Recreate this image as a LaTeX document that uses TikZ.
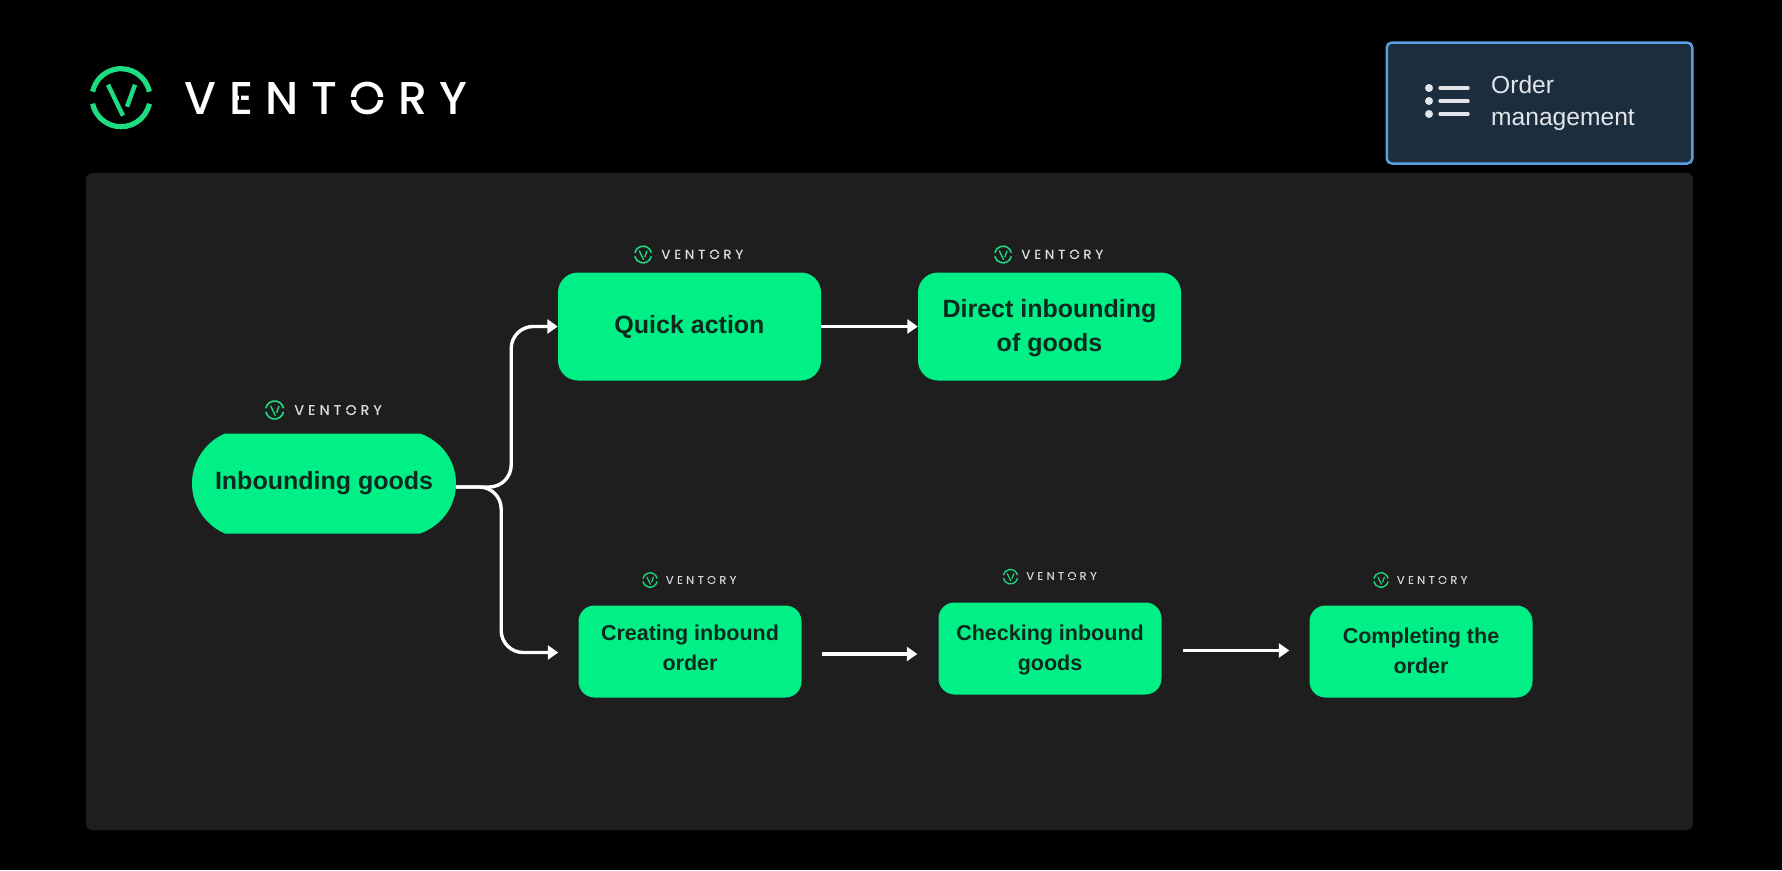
\documentclass[tikz,border=0pt]{standalone}
\usepackage{fontspec}
\usetikzlibrary{arrows.meta}
\setmainfont{Liberation Sans}
\newfontfamily\logofont[LetterSpace=27]{Poppins Medium}
\definecolor{bgblack}{HTML}{000000}
\definecolor{panelgrey}{HTML}{1E1E1E}
\definecolor{vgreen}{HTML}{00F087}
\definecolor{logogreen}{HTML}{1EDC82}
\definecolor{darktext}{HTML}{0E2A1E}
\definecolor{navy}{HTML}{1C2D3E}
\definecolor{edgeblue}{HTML}{5A9FE0}
\definecolor{lighttext}{HTML}{E2E6EA}
\newcommand{\tl}[2]{\raisebox{#1}[0pt][0pt]{#2}}
\tikzset{
  flow/.style={draw=white,line width=3.4pt,-{Triangle[length=10.5pt,width=14pt]}},
  actbig/.style={fill=vgreen,rounded corners=20pt,minimum width=263pt,minimum height=108pt,inner sep=0pt,
     text=darktext,align=center,font=\bfseries\fontsize{25}{34}\selectfont},
  actsmall/.style={fill=vgreen,rounded corners=16pt,minimum width=223pt,minimum height=92pt,inner sep=0pt,
     text=darktext,align=center,font=\bfseries\fontsize{21.5}{29.5}\selectfont},
}
% name, cx, cy, scale, background, wordmark colour
\newcommand{\ventlogo}[6]{%
  \begin{scope}[shift={(#2,#3)},scale=#4]
    \draw[logogreen,line width=5.2pt*#4] (12:29) arc (12:168:29);
    \draw[logogreen,line width=5.2pt*#4] (-12:29) arc (-12:-168:29);
    \draw[logogreen,line width=4.4pt*#4] (-13,-13) -- (2,18);
    \draw[logogreen,line width=4.4pt*#4] (14,-13) -- (6,9);
    \node[name=#1,anchor=base west,inner sep=0pt,outer sep=0pt,transform shape,text=#6,
      font=\logofont\fontsize{46}{46}\selectfont] at (63.7,16.3) {VENTORY};
    % stencil cuts in the letters
    \fill[#5] (227,-0.6) rectangle (264,2.2);
    \fill[#5] (117.5,-5) rectangle (120,6);
  \end{scope}%
}
\begin{document}
\begin{tikzpicture}[x=1pt,y=-1pt]
\useasboundingbox (0,0) rectangle (1782,870);
\fill[bgblack] (0,0) rectangle (1782,870);
\fill[panelgrey,rounded corners=6pt] (86,173) rectangle (1693,830);

% header
\ventlogo{mainlogo}{121}{97.7}{1}{bgblack}{white}
\node[name=orderbox,draw=edgeblue,fill=navy,line width=2.5pt,rounded corners=5pt,minimum width=305.5pt,minimum height=121pt,inner sep=0pt] at (1539.5,103) {};
\foreach \yy in {88,101,114}{
  \fill[lighttext] (1429,\yy) circle (4pt);
  \draw[lighttext,line width=3.4pt,line cap=round] (1440,\yy) -- (1468,\yy);
}
\node[name=ordertext,anchor=west,inner sep=0pt,text=lighttext,align=left,font=\fontsize{24.6}{32}\selectfont] at (1491,103) {Order\\management};

% small logos
\ventlogo{logoinb}{274.7}{410}{0.31}{panelgrey}{white!88!black}
\ventlogo{logoquick}{643}{254.5}{0.29}{panelgrey}{white!88!black}
\ventlogo{logodirect}{1003}{254.5}{0.29}{panelgrey}{white!88!black}
\ventlogo{logocreate}{650}{580}{0.25}{panelgrey}{white!85!black}
\ventlogo{logocheck}{1010.4}{576.7}{0.25}{panelgrey}{white!85!black}
\ventlogo{logocomplete}{1381}{580}{0.25}{panelgrey}{white!85!black}

% start shape
\fill[vgreen] (225,433.5) -- (420,433.5) .. controls (441,441) and (456,460) .. (456,483.5)
   .. controls (456,507) and (441,526) .. (420,533.5) -- (225,533.5)
   .. controls (207,526) and (192,507) .. (192,483.5) .. controls (192,460) and (207,441) .. (225,433.5) -- cycle;
\node[name=inb,minimum width=264pt,minimum height=100pt,inner sep=0pt,text=darktext,
  font=\bfseries\fontsize{25}{30}\selectfont] at (324,483.5) {\tl{-5.5pt}{Inbounding goods}};

% action nodes
\node[actbig,name=quick] at (689.5,326.5) {\tl{-6.8pt}{Quick action}};
\node[actbig,name=direct] at (1049.5,326.5) {\tl{-7.5pt}{Direct inbounding}\\\tl{-7.5pt}{of goods}};
\node[actsmall,name=creating] at (690,651.5) {\tl{-4.2pt}{Creating inbound}\\\tl{-4.2pt}{order}};
\node[actsmall,name=checking] at (1050,648.5) {\tl{-7.2pt}{Checking inbound}\\\tl{-7.2pt}{goods}};
\node[actsmall,name=completing] at (1421,651.5) {\tl{-6.8pt}{Completing the}\\\tl{-6.8pt}{order}};

% connectors
\draw[flow,rounded corners=22pt] ([yshift=-3.5pt]inb.east) -- ++(55,0) |- (quick.west);
\draw[flow,rounded corners=22pt] ([yshift=-3.5pt]inb.east) -- ++(45,0) |- ([xshift=-20pt,yshift=-1pt]creating.west);
\draw[flow] (quick.east) -- (direct.west);
\draw[flow] ([shift={(20,2.5)}]creating.east) -- ([shift={(-21,5.5)}]checking.west);
\draw[flow] ([shift={(21,2)}]checking.east) -- ([shift={(-20,-1)}]completing.west);
\end{tikzpicture}
\end{document}
